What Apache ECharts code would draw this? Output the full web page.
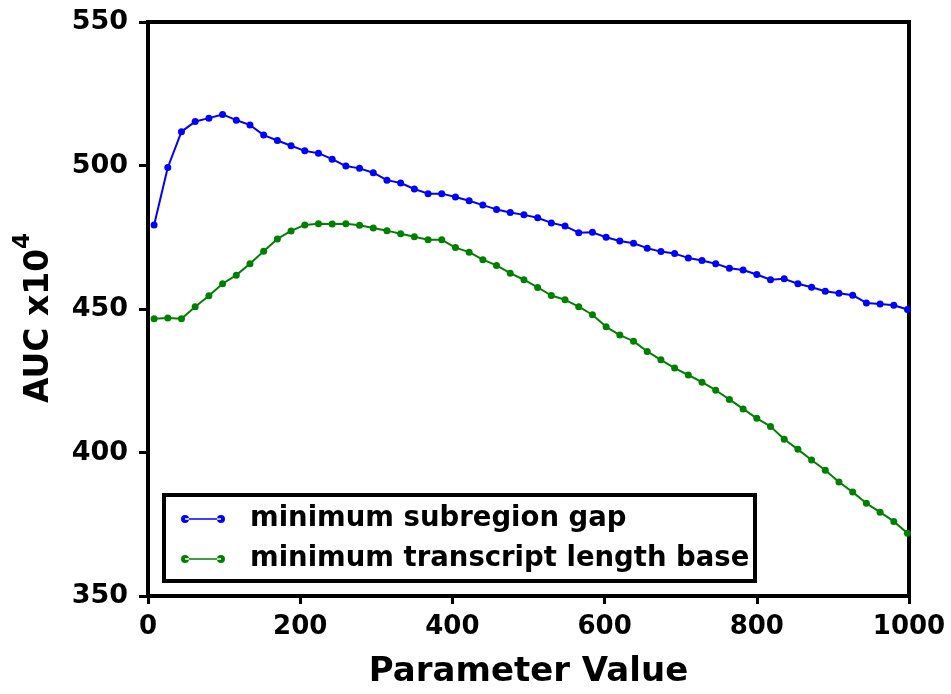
<!DOCTYPE html>
<html>
<head>
<meta charset="utf-8">
<script src="https://cdn.jsdelivr.net/npm/echarts@6/dist/echarts.min.js"></script>
<style>
html,body{margin:0;padding:0;background:#fff;}
#chart{width:951px;height:694px;}
</style>
</head>
<body>
<div id="chart"></div>
<script>
const xValues = [8,26,44,62,80,98,116,134,152,170,188,206,224,242,260,278,296,314,332,350,368,386,404,422,440,458,476,494,512,530,548,566,584,602,620,638,656,674,692,710,728,746,764,782,800,818,836,854,872,890,908,926,944,962,980,998];
const subregionGap = [479.3,499.3,511.8,515.3,516.5,517.8,515.8,514.1,510.6,508.7,506.9,505.1,504.3,502.2,499.8,499.0,497.5,494.9,493.9,491.8,490.2,490.2,489.0,487.7,486.2,484.7,483.6,482.8,481.8,480.0,478.9,476.6,476.7,475.0,473.7,472.9,471.2,470.0,469.3,467.8,466.9,465.8,464.2,463.6,462.0,460.2,460.5,458.8,457.6,456.2,455.5,454.8,452.1,451.7,451.3,449.8];
const transcriptLength = [446.6,446.9,446.6,450.8,454.6,458.8,461.8,465.8,470.1,474.4,477.2,479.3,479.7,479.6,479.7,479.2,478.2,477.3,476.2,475.2,474.1,474.1,471.4,469.8,467.2,465.2,462.5,460.2,457.5,454.7,453.2,450.8,448.0,443.8,440.9,438.8,435.2,432.3,429.4,427.0,424.5,421.7,418.5,415.2,411.9,409.1,404.6,401.1,397.4,393.8,389.7,386.2,382.3,379.2,376.0,371.9];
const seriesNames = ['minimum subregion gap','minimum transcript length base'];
const xAxisTitle = 'Parameter Value';

const FONT = 'DejaVu Sans';
const legendIcon = 'path://M0,4 a4,4 0 1,0 8,0 a4,4 0 1,0 -8,0 Z M36,4 a4,4 0 1,0 8,0 a4,4 0 1,0 -8,0 Z M4,3.2 L40,3.2 L40,4.8 L4,4.8 Z';

const chart = echarts.init(document.getElementById('chart'), null, {renderer:'canvas'});
const pairs = arr => arr.map((v,i)=>[xValues[i], v]);
chart.setOption({
  animation:false,
  backgroundColor:'#fff',
  grid:{left:148,right:42,top:22,bottom:97,show:true,borderColor:'#000',borderWidth:4,backgroundColor:'transparent'},
  xAxis:{
    type:'value',min:0,max:1000,interval:200,
    name:xAxisTitle,nameLocation:'middle',nameGap:59,
    nameTextStyle:{fontFamily:FONT,fontWeight:'bold',fontSize:34,color:'#000'},
    axisLine:{show:true,onZero:false,lineStyle:{color:'#000',width:4}},
    axisTick:{show:true,length:8,lineStyle:{color:'#000',width:3}},
    axisLabel:{fontFamily:FONT,fontWeight:'bold',fontSize:26,color:'#000',margin:18,formatter:v=>String(v)},
    splitLine:{show:false}
  },
  yAxis:{
    type:'value',min:350,max:550,interval:50,
    name:'{m|AUC x10}{s|4}',nameLocation:'middle',nameGap:92,nameRotate:90,
    nameTextStyle:{fontFamily:FONT,fontWeight:'bold',fontSize:33,color:'#000',padding:[0,18,0,0],
      rich:{m:{fontFamily:FONT,fontWeight:'bold',fontSize:33,color:'#000',lineHeight:44,verticalAlign:'bottom'},
            s:{fontFamily:FONT,fontWeight:'bold',fontSize:23,color:'#000',lineHeight:44,verticalAlign:'top'}}},
    axisLine:{show:true,onZero:false,lineStyle:{color:'#000',width:4}},
    axisTick:{show:true,length:9,lineStyle:{color:'#000',width:3}},
    axisLabel:{fontFamily:FONT,fontWeight:'bold',fontSize:27,color:'#000',margin:20},
    splitLine:{show:false}
  },
  legend:{
    orient:'vertical',left:176,top:500,itemGap:12,itemWidth:44,itemHeight:8,
    icon:legendIcon,
    textStyle:{fontFamily:FONT,fontWeight:'bold',fontSize:27.5,color:'#000',padding:[0,0,0,20]},
    data:seriesNames
  },
  graphic:[{type:'rect',z:-1,zlevel:0,shape:{x:164,y:495,width:591,height:86},style:{fill:'#fff',stroke:'#000',lineWidth:4}}],
  series:[
    {name:seriesNames[0],type:'line',data:pairs(subregionGap),color:'#0000ff',symbol:'circle',symbolSize:7,showAllSymbol:true,lineStyle:{width:2,color:'#0000ff'},itemStyle:{color:'#0000ff'},z:3},
    {name:seriesNames[1],type:'line',data:pairs(transcriptLength),color:'#008000',symbol:'circle',symbolSize:7,showAllSymbol:true,lineStyle:{width:2,color:'#008000'},itemStyle:{color:'#008000'},z:3}
  ]
});
</script>
</body>
</html>
